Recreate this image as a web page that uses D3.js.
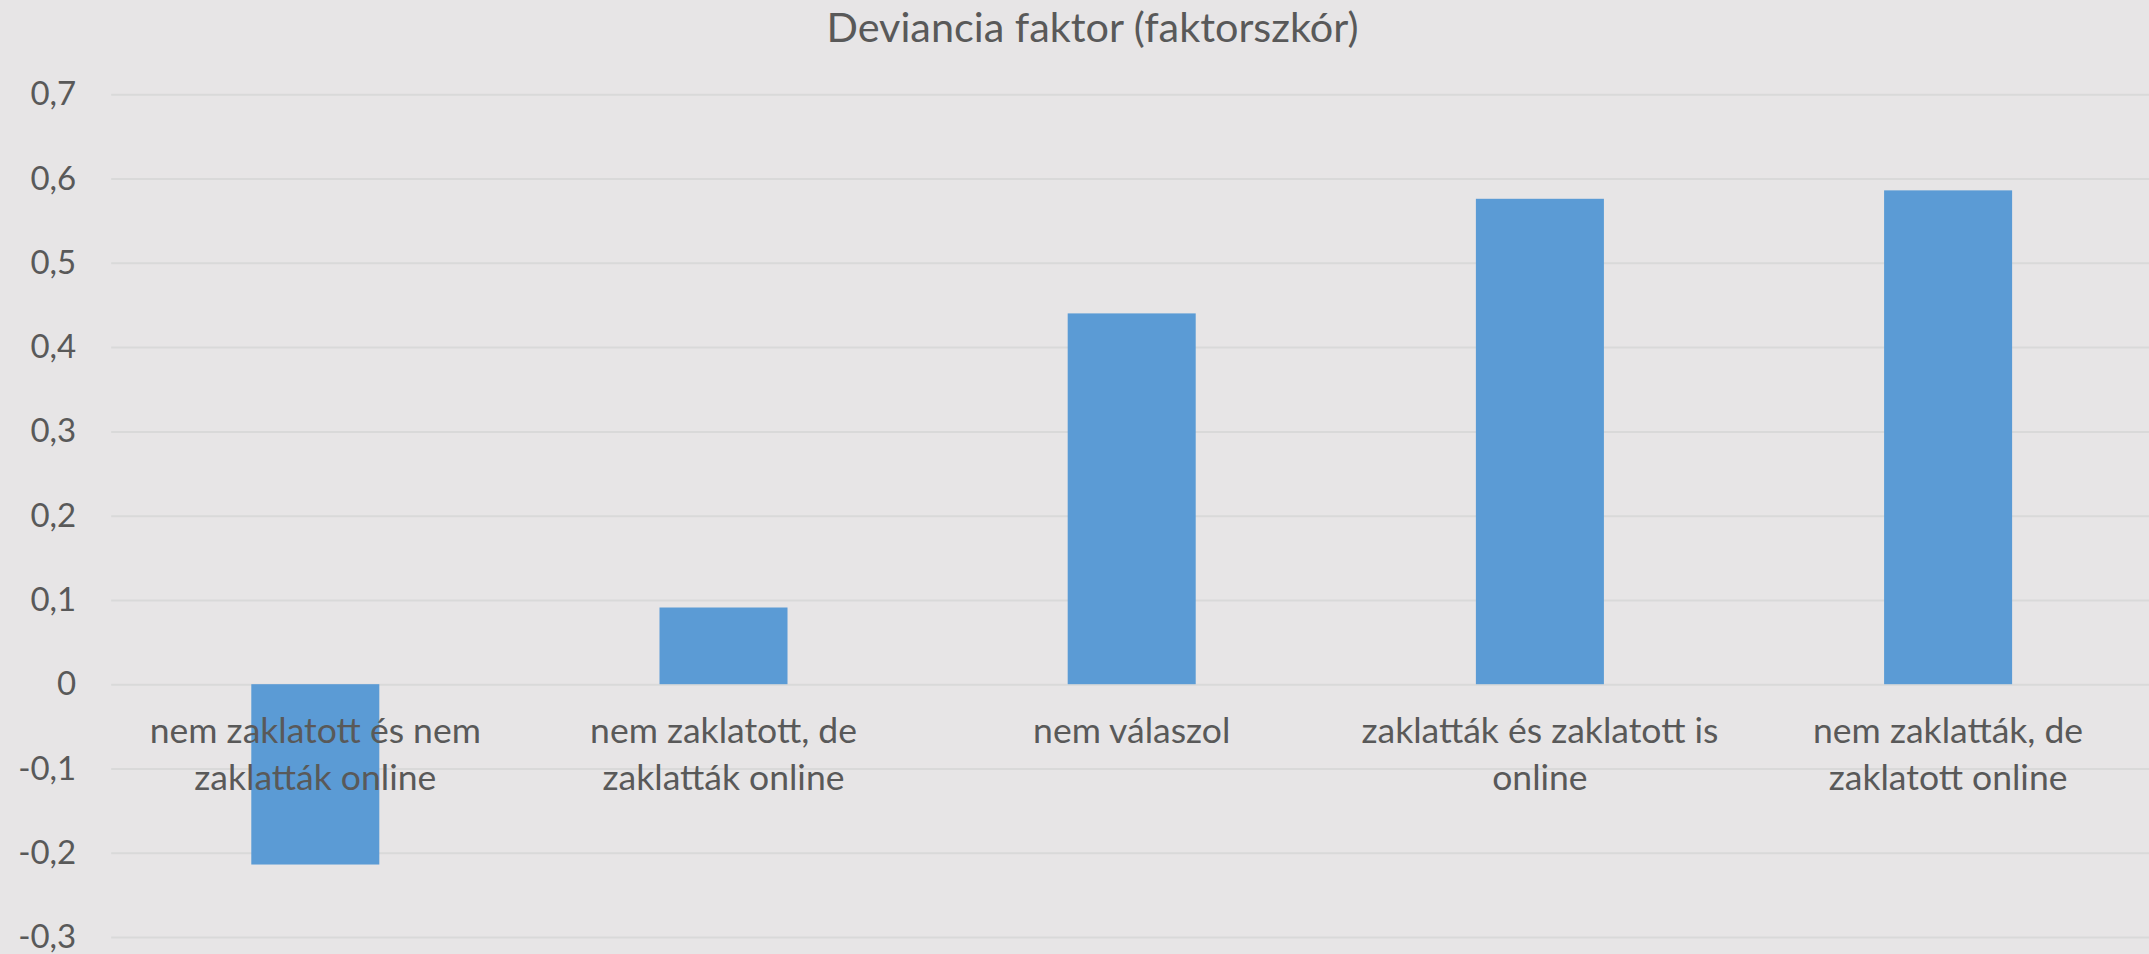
<!DOCTYPE html>
<html>
<head>
<meta charset="utf-8">
<script src="https://cdn.jsdelivr.net/npm/d3@7"></script>
<style>
  html, body { margin: 0; padding: 0; background: #e7e5e6; }
  svg { display: block; }
  text { font-family: Lato, "Open Sans", sans-serif; fill: #595959; }
</style>
</head>
<body>
<svg id="chart" width="2149" height="954"></svg>
<script>
// ---- data ----
const title = "Deviancia faktor (faktorszkór)";
const categories = [
  "nem zaklatott és nem zaklatták online",
  "nem zaklatott, de zaklatták online",
  "nem válaszol",
  "zaklatták és zaklatott is online",
  "nem zaklatták, de zaklatott online"
];
const categoryLines = [
  ["nem zaklatott és nem", "zaklatták online"],
  ["nem zaklatott, de", "zaklatták online"],
  ["nem válaszol"],
  ["zaklatták és zaklatott is", "online"],
  ["nem zaklatták, de", "zaklatott online"]
];
const values = [-0.214, 0.091, 0.440, 0.576, 0.586];
const yTicks = [-0.3, -0.2, -0.1, 0, 0.1, 0.2, 0.3, 0.4, 0.5, 0.6, 0.7];
const yTickLabels = ["-0,3", "-0,2", "-0,1", "0", "0,1", "0,2", "0,3", "0,4", "0,5", "0,6", "0,7"];

// ---- layout ----
const W = 2149, H = 954;
const plot = { left: 111.2, right: 2152.2, top: 94.3, bottom: 937 };

const svg = d3.select("#chart");
svg.append("rect").attr("width", W).attr("height", H).attr("fill", "#e7e5e6");

const x = d3.scaleBand()
  .domain(categories)
  .range([plot.left, plot.right])
  .paddingInner(0.6864)
  .paddingOuter(0.3432);

const y = d3.scaleLinear()
  .domain([-0.3, 0.7])
  .range([plot.bottom, plot.top]);

// gridlines + y labels
const yAxis = d3.axisLeft(y)
  .tickValues(yTicks)
  .tickFormat((d, i) => yTickLabels[i])
  .tickSize(-(plot.right - plot.left))
  .tickPadding(35);

const gy = svg.append("g")
  .attr("transform", `translate(${plot.left},0)`)
  .call(yAxis);
gy.select(".domain").remove();
gy.selectAll(".tick line").attr("stroke", "#d9d9d9").attr("stroke-width", 2);
gy.selectAll(".tick text")
  .attr("font-size", 33)
  .attr("fill", "#595959")
  .style("font-family", "Lato, 'Open Sans', sans-serif");

// bars
svg.append("g").selectAll("rect")
  .data(values)
  .join("rect")
  .attr("x", (d, i) => x(categories[i]))
  .attr("width", x.bandwidth())
  .attr("y", d => y(Math.max(0, d)))
  .attr("height", d => Math.abs(y(d) - y(0)))
  .attr("fill", "#5b9bd5");

// category labels (drawn over bars)
const labelG = svg.append("g");
categories.forEach((c, i) => {
  const cx = x(c) + x.bandwidth() / 2;
  const t = labelG.append("text")
    .attr("x", cx)
    .attr("y", y(0) + 59)
    .attr("text-anchor", "middle")
    .attr("font-size", 35.5);
  categoryLines[i].forEach((line, j) => {
    t.append("tspan")
      .attr("x", cx)
      .attr("dy", j === 0 ? 0 : 46.7)
      .text(line);
  });
});

// title
svg.append("text")
  .attr("x", 1092.5)
  .attr("y", 42.3)
  .attr("text-anchor", "middle")
  .attr("font-size", 41.4)
  .text(title);
</script>
</body>
</html>
